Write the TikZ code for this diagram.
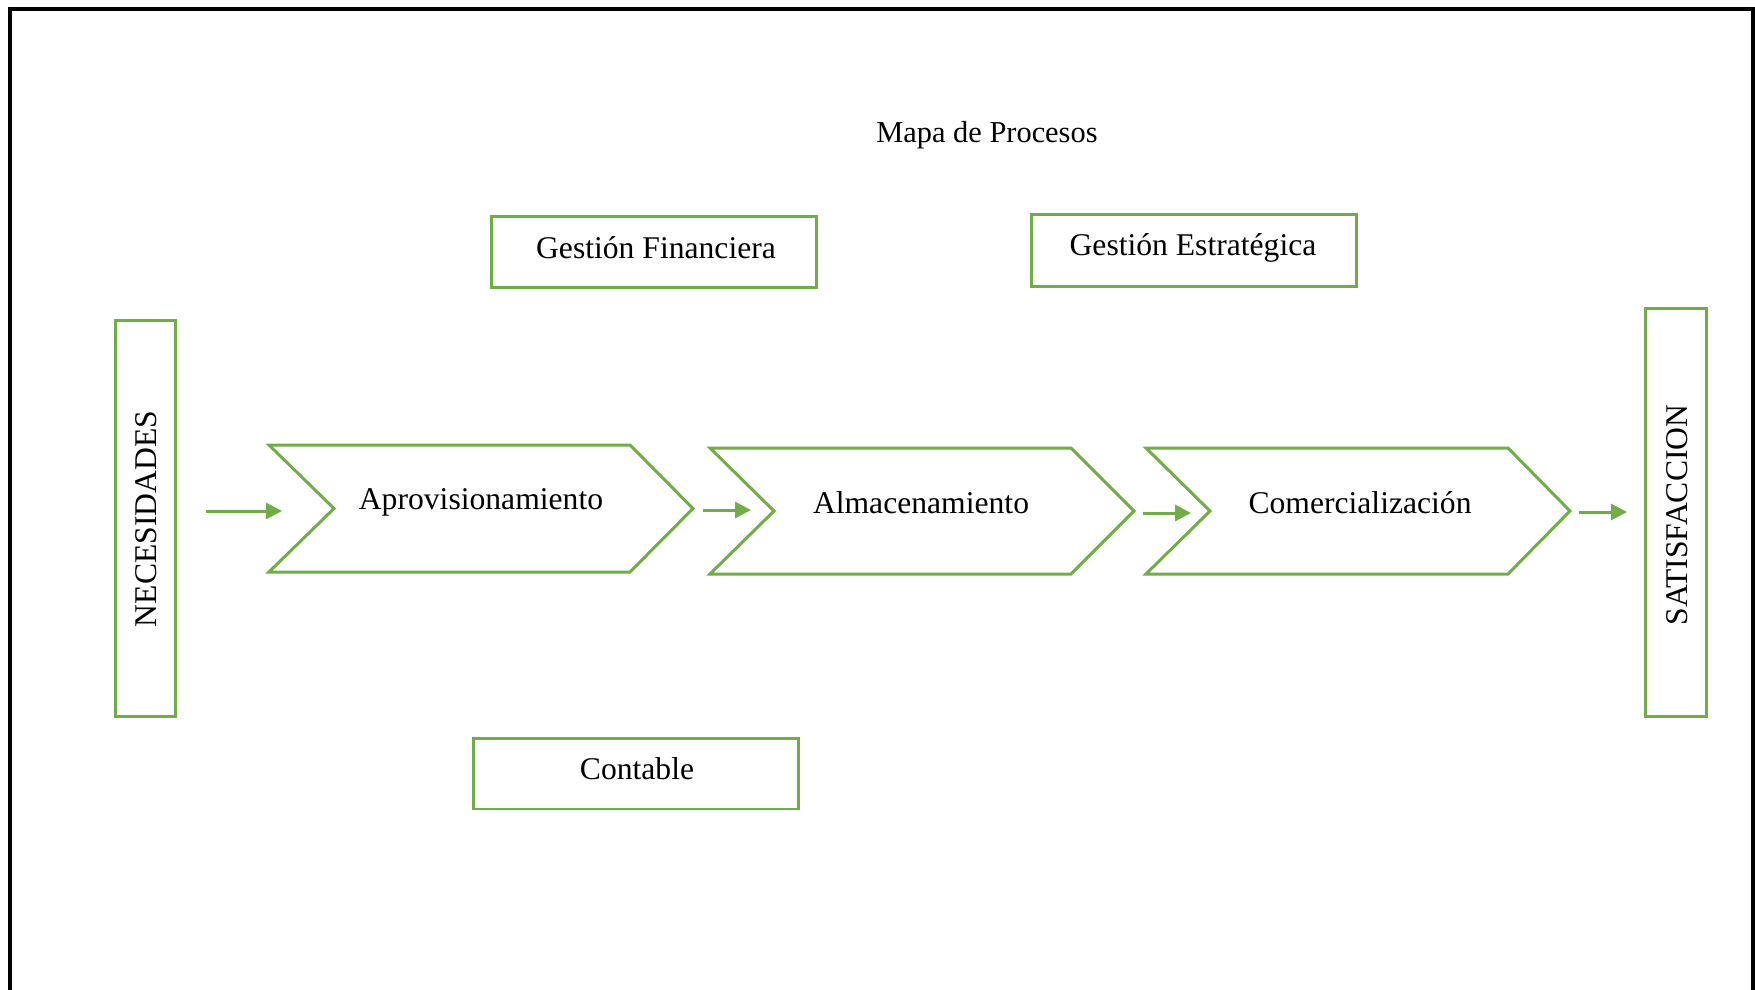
\documentclass[tikz,border=0pt]{standalone}
\usepackage{fontspec}
\setmainfont{Liberation Serif}
\usetikzlibrary{arrows.meta}
\definecolor{grn}{RGB}{112,173,71}
\begin{document}
\begin{tikzpicture}[x=0.02cm,y=-0.02cm,
  box/.style={draw=grn,line width=0.06cm,inner sep=0pt},
  chev/.style={draw=grn,line width=0.06cm,line join=miter},
  txt/.style={font=\fontsize{18}{22}\selectfont,inner sep=0pt},
  flow/.style={draw=grn,line width=0.06cm,-{Triangle[length=0.32cm,width=0.32cm]}}]
\useasboundingbox (0,0) rectangle (1755,990);
% outer frame (open at bottom)
\draw[line width=0.065cm] (10,1010) -- (10,9) -- (1753,9) -- (1753,1010);
% title
\node[txt,font=\fontsize{17.3}{21}\selectfont] (title) at (987,135) {Mapa de Procesos};
% support boxes
\node[box,minimum width=6.52cm,minimum height=1.44cm] (gf) at (654,252) {};
\node[txt] (gft) at (656,247.5) {Gestión Financiera};
\node[box,minimum width=6.52cm,minimum height=1.46cm] (ge) at (1194,250.5) {};
\node[txt] (get) at (1193,248) {Gestión Estratégica};
\node[box,minimum width=6.52cm,minimum height=1.42cm] (co) at (636,773.5) {};
\node[txt] (cot) at (637,769) {Contable};
% side boxes
\node[box,minimum width=1.22cm,minimum height=7.94cm] (nec) at (145.5,518.5) {};
\node[txt,rotate=90] (nect) at (146,519) {NECESIDADES};
\node[box,minimum width=1.22cm,minimum height=8.18cm] (sat) at (1675.5,512.5) {};
\node[txt,rotate=90] (satt) at (1677,515) {SATISFACCION};
% chevrons
\draw[chev] (269,445) -- (630,445) -- (693,508.5) -- (630,572) -- (269,572) -- (334,508.5) -- cycle;
\node[txt] (apr) at (481,502) {Aprovisionamiento};
\draw[chev] (710,448) -- (1071,448) -- (1134,511) -- (1071,574) -- (710,574) -- (774,511) -- cycle;
\node[txt] (alm) at (921,503) {Almacenamiento};
\draw[chev] (1146,448) -- (1508,448) -- (1570,511) -- (1508,574) -- (1146,574) -- (1210,511) -- cycle;
\node[txt] (com) at (1360,503) {Comercialización};
% arrows
\coordinate (a1s) at (206,511); \coordinate (a1e) at (282,511);
\coordinate (a2s) at (703,510); \coordinate (a2e) at (751,510);
\coordinate (a3s) at (1143,513); \coordinate (a3e) at (1191,513);
\coordinate (a4s) at (1579,512); \coordinate (a4e) at (1627,512);
\draw[flow] (a1s) -- (a1e);
\draw[flow] (a2s) -- (a2e);
\draw[flow] (a3s) -- (a3e);
\draw[flow] (a4s) -- (a4e);
\end{tikzpicture}
\end{document}
